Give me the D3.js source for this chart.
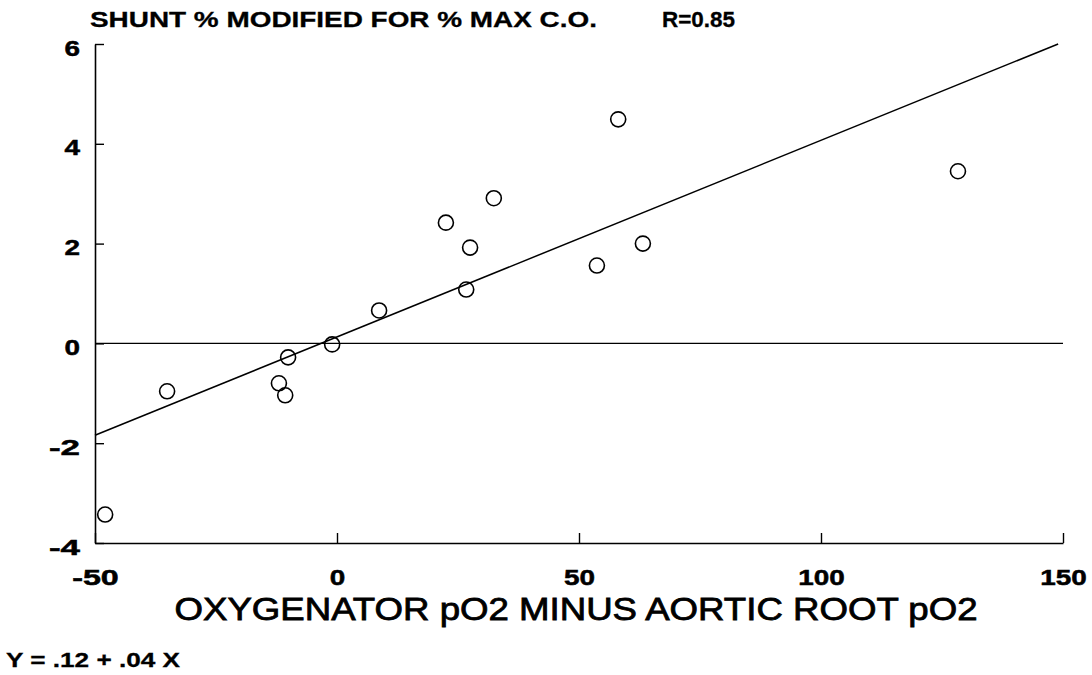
<!DOCTYPE html>
<html>
<head>
<meta charset="utf-8">
<script src="https://cdn.jsdelivr.net/npm/d3@7"></script>
<style>
  body { margin: 0; background: #fff; }
  text { font-family: "Liberation Sans", Arial, sans-serif; fill: #000; }
</style>
</head>
<body>
<svg id="mainsvg" width="1092" height="675"></svg>
<script>
// scatter values
var xValues = [-47.9, -35.1, -12.0, -10.7, -10.1, -1.0, 8.7, 22.5, 26.7, 27.5, 32.4, 53.7, 58.1, 63.2, 128.3];
var yValues = [-3.43, -0.96, -0.80, -1.04, -0.28, -0.02, 0.66, 2.42, 1.08, 1.92, 2.91, 1.56, 4.49, 2.00, 3.45];
// fitted line end points
var fitX = [-50, 149];
var fitY = [-1.84, 6.0];
var xTicks = [-50, 0, 50, 100, 150];
var yTicks = [-4, -2, 0, 2, 4, 6];

var svg = d3.select("#mainsvg");

var x = d3.scaleLinear().domain([-50, 150]).range([95, 1063]);
var y = d3.scaleLinear().domain([-4, 6]).range([543, 44]);

// plain hyphen for negatives, like the original plotter
var fmt = function(d){ return d < 0 ? "-" + Math.abs(d) : String(d); };

// axes, ticks pointing inwards
var xAxis = d3.axisBottom(x).tickValues(xTicks).tickFormat(fmt)
    .tickSizeInner(-10).tickSizeOuter(0).tickPadding(0);
var yAxis = d3.axisLeft(y).tickValues(yTicks).tickFormat(fmt)
    .tickSizeInner(-9).tickSizeOuter(0).tickPadding(0);

var gx = svg.append("g").attr("transform", "translate(0," + y(-4) + ")").call(xAxis);
var gy = svg.append("g").attr("transform", "translate(" + x(-50) + ",0)").call(yAxis);

[gx, gy].forEach(function(g){
    g.select(".domain").attr("stroke", "#000").attr("stroke-width", 1.6);
    g.selectAll(".tick line").attr("stroke", "#000").attr("stroke-width", 1.4);
    g.selectAll(".tick text")
        .style("font-family", "Liberation Sans, Arial, sans-serif")
        .style("font-size", "22px")
        .style("font-weight", "bold")
        .attr("fill", "#000")
        .attr("stroke", "#000").attr("stroke-width", 0.5)
        .attr("lengthAdjust", "spacingAndGlyphs")
        .attr("textLength", function(d){ return fmt(d).length * 15.5; });
});
// y labels end ~15px left of the axis, baseline a bit under the tick
gy.selectAll(".tick text").attr("x", -15).attr("dy", null).attr("y", 11);
gx.selectAll(".tick text").attr("dy", null).attr("y", 42);

// zero line
svg.append("line")
    .attr("x1", x(-50)).attr("x2", x(150))
    .attr("y1", y(0)).attr("y2", y(0))
    .attr("stroke", "#000").attr("stroke-width", 1.4);

// regression line
svg.append("line")
    .attr("x1", x(fitX[0])).attr("y1", y(fitY[0]))
    .attr("x2", x(fitX[1])).attr("y2", y(fitY[1]))
    .attr("stroke", "#000").attr("stroke-width", 1.5);

// points
svg.append("g").selectAll("circle")
    .data(xValues)
    .enter().append("circle")
    .attr("cx", function(d){ return x(d); })
    .attr("cy", function(d, i){ return y(yValues[i]); })
    .attr("r", 7.5)
    .attr("fill", "none")
    .attr("stroke", "#000")
    .attr("stroke-width", 1.6);

// texts, stretched to the width of the wide plotter lettering
function label(tx, ty, size, weight, len, str, anchor, sw){
    svg.append("text")
        .attr("x", tx).attr("y", ty)
        .attr("text-anchor", anchor || "start")
        .attr("lengthAdjust", "spacingAndGlyphs")
        .attr("textLength", len)
        .attr("stroke", "#000").attr("stroke-width", sw || 0)
        .style("font-size", size + "px")
        .style("font-weight", weight)
        .text(str);
}
label(90, 27, 22, "bold", 507, "SHUNT % MODIFIED FOR % MAX C.O.", "start", 0.3);
label(662, 27, 22, "bold", 73, "R=0.85", "start", 0.3);
label(576, 620, 32, "normal", 803, "OXYGENATOR pO2 MINUS AORTIC ROOT pO2", "middle", 0.8);
label(6, 667, 20, "bold", 174, "Y = .12 + .04 X", "start", 0.3);
</script>
</body>
</html>
